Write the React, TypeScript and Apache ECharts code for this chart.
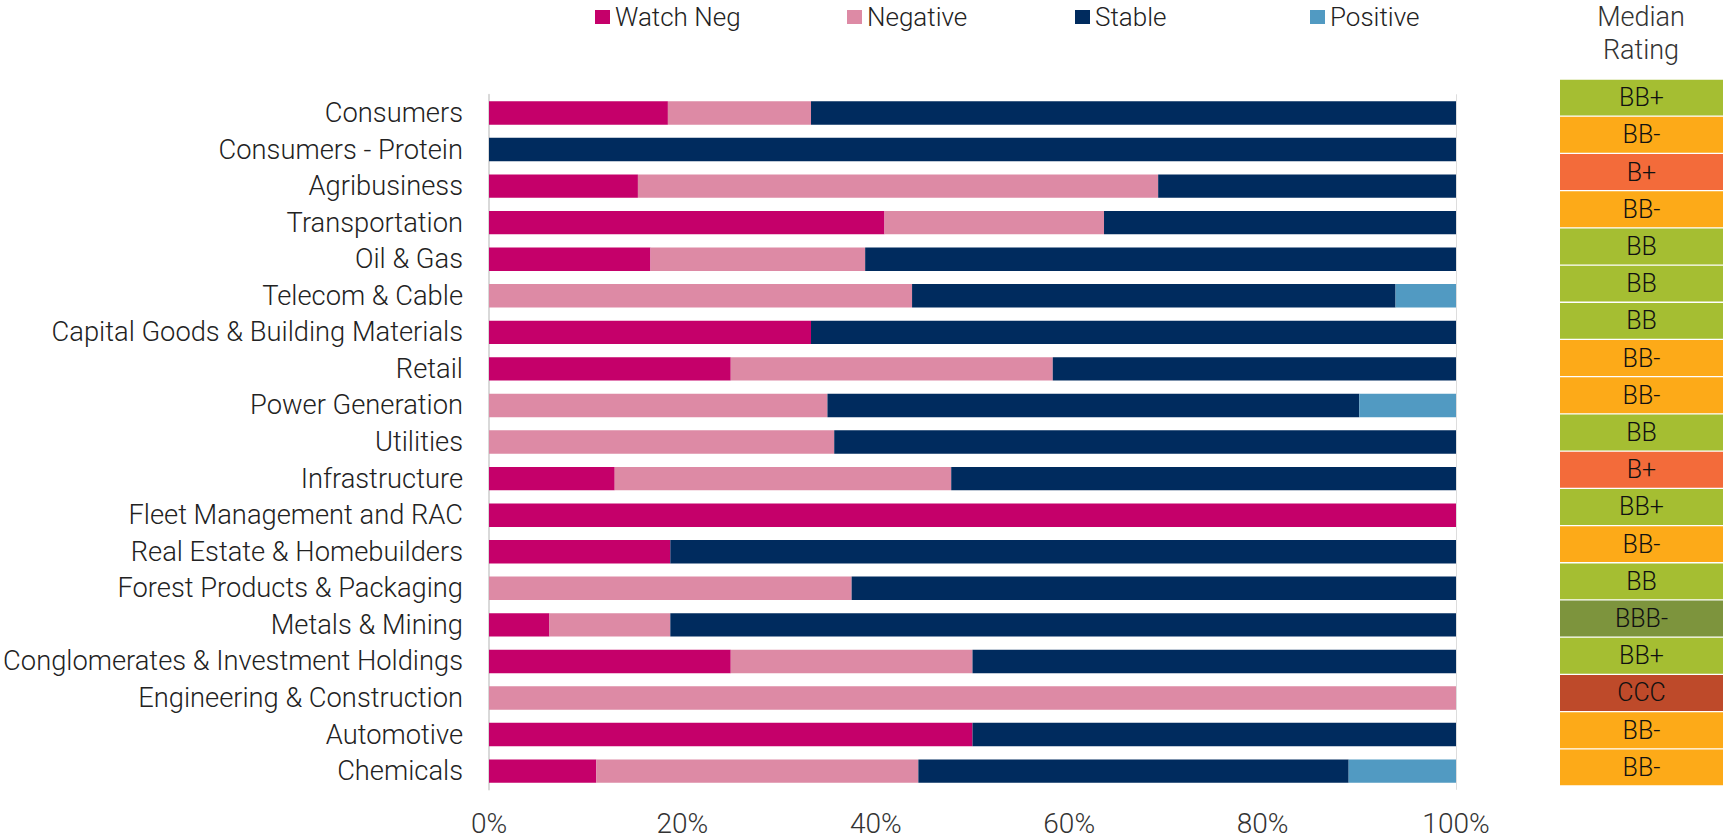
import React, { useEffect, useRef } from "react";
import * as echarts from "echarts";

const categories = [
  "Consumers",
  "Consumers - Protein",
  "Agribusiness",
  "Transportation",
  "Oil & Gas",
  "Telecom & Cable",
  "Capital Goods & Building Materials",
  "Retail",
  "Power Generation",
  "Utilities",
  "Infrastructure",
  "Fleet Management and RAC",
  "Real Estate & Homebuilders",
  "Forest Products & Packaging",
  "Metals & Mining",
  "Conglomerates & Investment Holdings",
  "Engineering & Construction",
  "Automotive",
  "Chemicals",
];

const watchNeg = [18.5, 0, 15.4, 40.9, 16.7, 0, 33.3, 25, 0, 0, 13.0, 100, 18.75, 0, 6.25, 25, 0, 50, 11.1];
const negative = [14.8, 0, 53.8, 22.7, 22.2, 43.75, 0, 33.3, 35, 35.7, 34.8, 0, 0, 37.5, 12.5, 25, 100, 0, 33.3];
const stable = [66.7, 100, 30.8, 36.4, 61.1, 50, 66.7, 41.7, 55, 64.3, 52.2, 0, 81.25, 62.5, 81.25, 50, 0, 50, 44.5];
const positive = [0, 0, 0, 0, 0, 6.25, 0, 0, 10, 0, 0, 0, 0, 0, 0, 0, 0, 0, 11.1];

const medianRatings = [
  "BB+", "BB-", "B+", "BB-", "BB", "BB", "BB", "BB-", "BB-", "BB",
  "B+", "BB+", "BB-", "BB", "BBB-", "BB+", "CCC", "BB-", "BB-",
];

const xTicks = [0, 20, 40, 60, 80, 100];

const seriesNames = ["Watch Neg", "Negative", "Stable", "Positive"];
const seriesColors = ["#C5006A", "#DD8AA5", "#002B5E", "#519AC2"];
const ratingColors: Record<string, string> = {
  "BBB-": "#7D943D",
  "BB+": "#A5BE32",
  BB: "#A5BE32",
  "BB-": "#FDAA18",
  "B+": "#F36B3A",
  CCC: "#BE4A2A",
};

const FONT = "Roboto";

export default function App() {
  const ref = useRef<HTMLDivElement>(null);

  useEffect(() => {
    document.body.style.margin = "0";
    if (!ref.current) return;
    const chart = echarts.init(ref.current, undefined, { renderer: "svg" });
    const seriesData = [watchNeg, negative, stable, positive];
    const legendLefts = [590, 842, 1070, 1305];

    const option: any = {
      animation: false,
      backgroundColor: "#ffffff",
      textStyle: { fontFamily: FONT },
      legend: seriesNames.map((n, i) => ({
        data: [n],
        left: legendLefts[i],
        top: -1,
        icon: "rect",
        itemWidth: 15,
        itemHeight: 14,
        itemGap: 8,
        selectedMode: false,
        textStyle: { fontSize: 26, color: "#222", fontFamily: FONT, fontWeight: 300 },
      })),
      graphic: [
        {
          type: "text",
          x: 1641,
          y: 0,
          style: {
            text: "Median\nRating",
            textAlign: "center",
            textVerticalAlign: "top",
            fontSize: 27,
            fontFamily: FONT,
            fontWeight: 300,
            lineHeight: 33,
            fill: "#333",
          },
        },
      ],
      grid: [
        { left: 489, right: 267, top: 94.7, height: 694.7, containLabel: false, outerBoundsMode: "none" },
        { left: 1560, right: 0, top: 79, height: 707, containLabel: false, outerBoundsMode: "none" },
      ],
      xAxis: [
        {
          gridIndex: 0,
          type: "value",
          min: xTicks[0],
          max: xTicks[xTicks.length - 1],
          interval: 20,
          axisLine: { show: false },
          axisTick: { show: false },
          splitLine: { show: false },
          axisLabel: {
            formatter: (v: number) => v + "%",
            fontSize: 28,
            color: "#333",
            margin: 20,
            fontFamily: FONT,
            fontWeight: 300,
          },
        },
        {
          gridIndex: 1,
          type: "value",
          min: 0,
          max: 1,
          show: false,
        },
      ],
      yAxis: [
        {
          gridIndex: 0,
          type: "category",
          data: categories,
          inverse: true,
          axisLine: { show: true, lineStyle: { color: "#d9d9d9", width: 2 } },
          axisTick: { show: false },
          axisLabel: {
            fontSize: 27.3,
            color: "#222",
            margin: 26,
            fontFamily: FONT,
            fontWeight: 300,
          },
        },
        {
          gridIndex: 0,
          type: "category",
          data: categories,
          inverse: true,
          position: "right",
          axisLine: { show: true, lineStyle: { color: "#dddddd", width: 1 } },
          axisTick: { show: false },
          axisLabel: { show: false },
        },
        {
          gridIndex: 1,
          type: "category",
          data: medianRatings.map((_, i) => i),
          inverse: true,
          show: false,
        },
      ],
      series: [
        ...seriesNames.map((n, i) => ({
          name: n,
          type: "bar",
          stack: "total",
          xAxisIndex: 0,
          yAxisIndex: 0,
          barCategoryGap: "36%",
          itemStyle: { color: seriesColors[i] },
          data: seriesData[i],
        })),
        {
          name: "Median Rating",
          type: "bar",
          xAxisIndex: 1,
          yAxisIndex: 2,
          barCategoryGap: "3.5%",
          data: medianRatings.map((r) => ({
            value: 1,
            name: r,
            itemStyle: { color: ratingColors[r] },
          })),
          label: {
            show: true,
            position: "inside",
            formatter: (p: any) => p.name,
            fontSize: 25,
            color: "#111",
            fontFamily: FONT,
            fontWeight: 300,
          },
        },
      ],
    };
    chart.setOption(option);
    return () => chart.dispose();
  }, []);

  return <div ref={ref} style={{ width: 1723, height: 839 }} />;
}
